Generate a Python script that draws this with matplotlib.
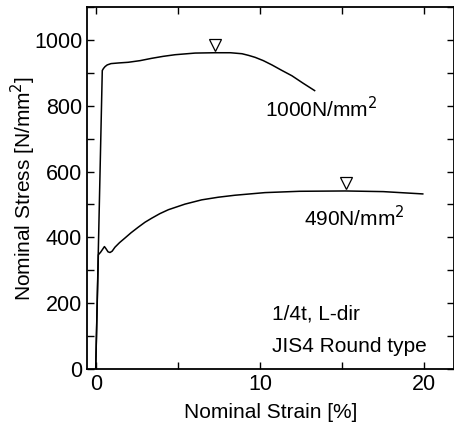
import matplotlib
matplotlib.use('Agg')
import matplotlib.pyplot as plt
from matplotlib.ticker import MultipleLocator
import matplotlib.transforms as mtransforms

# 1000 N/mm2 grade steel
strain_1000 = [0.0, 0.40, 0.47, 0.57, 0.70, 0.93, 1.4, 1.98, 2.7, 3.4, 4.1, 4.83, 6.05, 7.23,
               8.2, 8.9, 9.3, 9.7, 10.2, 10.72, 11.3, 11.94, 12.6, 13.32]
stress_1000 = [0, 907, 913, 919, 924, 928, 930, 932, 937, 944, 950, 955, 960, 961,
               961, 958, 953, 947, 937, 924, 908, 891, 869, 846]

# 490 N/mm2 grade steel
strain_490 = [0.0, 0.16, 0.30, 0.45, 0.53, 0.62, 0.75, 0.87, 1.0, 1.17, 1.45, 1.78, 2.15, 2.59,
              3.0, 3.4, 3.9, 4.42, 5.43, 6.45, 7.46, 8.47, 10.3, 12.4, 15.2, 17.5, 19.9]
stress_490 = [0, 347, 355, 366, 372, 366, 356, 354, 358, 370, 384, 398, 414, 431,
              446, 458, 472, 484, 501, 514, 522, 528, 536, 540, 541, 539, 532]

# tensile strength points (triangles)
uts_strain = [7.23, 15.2]
uts_stress = [961, 541]

plt.rcParams['font.family'] = ['Liberation Sans', 'DejaVu Sans']

fig = plt.figure(figsize=(4.54, 4.28), dpi=100)
ax = fig.add_axes([87/454, 1 - 369/428, (454 - 87)/454, (369 - 7)/428])

ax.plot(strain_1000, stress_1000, color='black', lw=1.1)
ax.plot(strain_490, stress_490, color='black', lw=1.1)

# markers sit a little above the curve
off = mtransforms.offset_copy(ax.transData, fig=fig, x=0, y=5.5, units='points')
ax.plot(uts_strain, uts_stress, linestyle='none', marker='v', markersize=8,
        markerfacecolor='white', markeredgecolor='black', markeredgewidth=0.9, transform=off)

fs = 15
ax.text(10.3, 790, '1000N/mm$^2$', fontsize=fs, va='center')
ax.text(12.7, 460, '490N/mm$^2$', fontsize=fs, va='center')
ax.text(10.7, 168, '1/4t, L-dir', fontsize=fs, va='center')
ax.text(10.7, 68, 'JIS4 Round type', fontsize=fs, va='center')

ax.set_xlim(-0.53, 21.8)
ax.set_ylim(0, 1100)
ax.set_xticks([0, 10, 20])
ax.xaxis.set_minor_locator(MultipleLocator(5))
ax.set_yticks([0, 200, 400, 600, 800, 1000])
ax.yaxis.set_minor_locator(MultipleLocator(100))
ax.tick_params(which='both', direction='in', top=True, right=True, labelsize=15.5, width=1.0)
ax.tick_params(which='major', length=5)
ax.tick_params(which='minor', length=5)

for s in ax.spines.values():
    s.set_linewidth(1.3)

ax.set_xlabel('Nominal Strain [%]', fontsize=fs, labelpad=6)
ax.set_ylabel('Nominal Stress [N/mm$^2$]', fontsize=fs, labelpad=-3)

plt.savefig('out.png', dpi=100)
